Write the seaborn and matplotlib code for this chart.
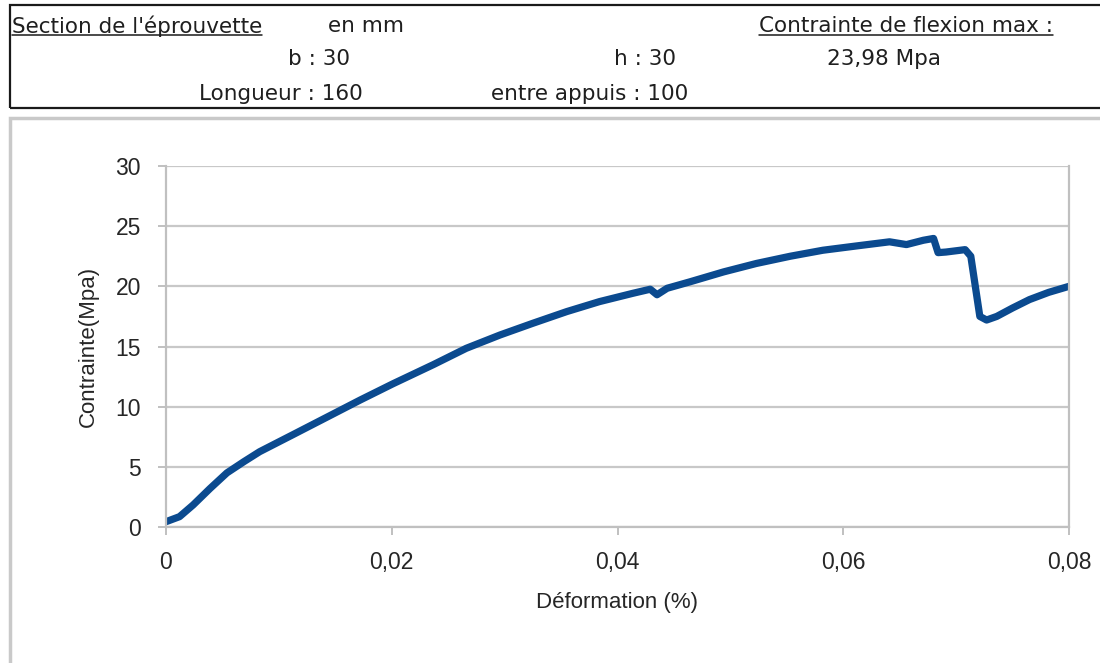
import matplotlib
matplotlib.use("Agg")
import matplotlib.pyplot as plt
import seaborn as sns
import pandas as pd
from matplotlib.patches import Rectangle
from matplotlib.lines import Line2D

# Flexion test: strain (%) vs stress (MPa)
strain = [0, 0.0012, 0.0024, 0.0039, 0.0054, 0.0069, 0.0083, 0.0113, 0.0142,
          0.0172, 0.0201, 0.0237, 0.0266, 0.0296, 0.0325, 0.0355, 0.0384,
          0.0414, 0.0429, 0.0435, 0.0444, 0.0464, 0.0494, 0.0523, 0.0553,
          0.0582, 0.0612, 0.0641, 0.0656, 0.0671, 0.0680, 0.0684, 0.0691,
          0.0708, 0.0713, 0.0717, 0.0721, 0.0727, 0.0736, 0.0750, 0.0765,
          0.0782, 0.0800]
stress = [0.44, 0.86, 1.83, 3.2, 4.5, 5.43, 6.26, 7.7, 9.1,
          10.55, 11.9, 13.5, 14.85, 15.96, 16.93, 17.9, 18.73,
          19.43, 19.76, 19.3, 19.84, 20.37, 21.2, 21.9, 22.5,
          23.0, 23.36, 23.7, 23.47, 23.83, 23.98, 22.8, 22.85,
          23.05, 22.5, 20.0, 17.5, 17.2, 17.5, 18.2, 18.9,
          19.5, 20.0]

x_ticks = [0, 0.02, 0.04, 0.06, 0.08]
x_tick_labels = ["0", "0,02", "0,04", "0,06", "0,08"]
y_ticks = [0, 5, 10, 15, 20, 25, 30]

W, H = 1100, 663
sns.set_theme(style="white")
plt.rcParams["font.family"] = ["DejaVu Sans"]

fig = plt.figure(figsize=(W / 100, H / 100), dpi=100)
fig.patch.set_facecolor("white")


def fx(px):
    return px / W


def fy(py):
    return 1 - py / H


# Header box and chart frame
fig.add_artist(Rectangle((fx(10), fy(108)), fx(1100), fy(5) - fy(108),
                         transform=fig.transFigure, fill=False,
                         edgecolor="#1a1a1a", linewidth=1.6))
fig.add_artist(Rectangle((fx(10), fy(680)), fx(1100), fy(118) - fy(680),
                         transform=fig.transFigure, fill=False,
                         edgecolor="#c9c9c9", linewidth=2.5))

hdr_font = dict(family="DejaVu Sans", fontsize=15.5, color="#1f1f1f")
t_sec = fig.text(fx(12), fy(26), "Section de l'éprouvette", ha="left", va="center", **hdr_font)
fig.text(fx(366), fy(26), "en mm", ha="center", va="center", **hdr_font)
t_max = fig.text(fx(906), fy(26), "Contrainte de flexion max :", ha="center", va="center", **hdr_font)
fig.text(fx(350), fy(59), "b : 30", ha="right", va="center", **hdr_font)
fig.text(fx(676), fy(59), "h : 30", ha="right", va="center", **hdr_font)
fig.text(fx(884), fy(59), "23,98 Mpa", ha="center", va="center", **hdr_font)
fig.text(fx(363), fy(94), "Longueur : 160", ha="right", va="center", **hdr_font)
fig.text(fx(688), fy(94), "entre appuis : 100", ha="right", va="center", **hdr_font)

# Plot area
ax = fig.add_axes([fx(166), fy(527), fx(1069) - fx(166), fy(166) - fy(527)])
df = pd.DataFrame({"strain": strain, "stress": stress})
sns.lineplot(data=df, x="strain", y="stress", ax=ax, estimator=None, sort=False,
             color="#0b4a8f", linewidth=5.2, solid_joinstyle="round",
             solid_capstyle="round")

ax.set_xlim(0, 0.08)
ax.set_ylim(0, 30)
ax.set_xticks(x_ticks)
ax.set_xticklabels(x_tick_labels)
ax.set_yticks(y_ticks)
ax.set_yticklabels([str(v) for v in y_ticks])

tick_font = "Liberation Sans"
for lab in ax.get_xticklabels() + ax.get_yticklabels():
    lab.set_fontfamily(tick_font)
    lab.set_fontsize(16.5)
    lab.set_color("#262626")

ax.grid(axis="y", color="#c8c8c8", linewidth=1.6)
ax.grid(axis="x", visible=False)
for side in ["left", "bottom", "right"]:
    ax.spines[side].set_visible(True)
    ax.spines[side].set_color("#c0c0c0")
    ax.spines[side].set_linewidth(1.6)
ax.spines["top"].set_visible(False)
ax.tick_params(axis="both", which="major", length=6, width=1.4, color="#c0c0c0",
               direction="out")
ax.tick_params(axis="x", pad=11, bottom=True)
ax.tick_params(axis="y", pad=12, left=True)

ax.set_xlabel("Déformation (%)", fontfamily=tick_font, fontsize=16,
              color="#262626", labelpad=13)
ax.set_ylabel("Contrainte(Mpa)", fontfamily=tick_font, fontsize=16,
              color="#262626", labelpad=12)

# Underline the two header titles
fig.canvas.draw()
renderer = fig.canvas.get_renderer()
inv = fig.transFigure.inverted()
for t in (t_sec, t_max):
    bb = t.get_window_extent(renderer)
    (x0, y0), (x1, _) = inv.transform([(bb.x0, bb.y0), (bb.x1, bb.y1)])
    fig.add_artist(Line2D([x0, x1], [y0 + 0.002, y0 + 0.002],
                          transform=fig.transFigure, color="#1a1a1a",
                          linewidth=1.1))

fig.savefig("out.png", dpi=100)
